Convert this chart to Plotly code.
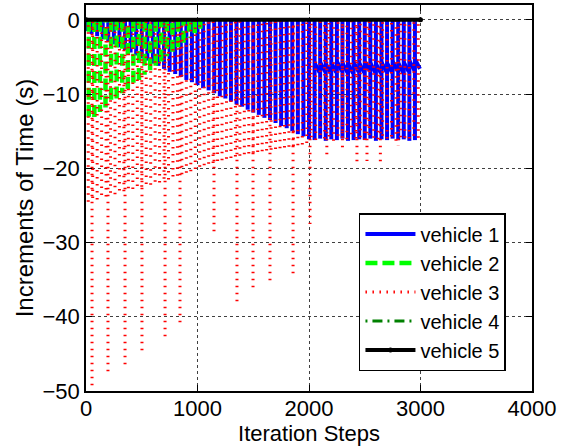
import plotly.graph_objects as go

# ---------------- data ----------------
x_ticks = [0, 1000, 2000, 3000, 4000]
y_ticks = [-50, -40, -30, -20, -10, 0]

# vehicle 1: step positions and the depth each drop reaches
v1_steps = [0, 50, 100, 150, 200, 250, 300, 350, 400, 450, 500, 550, 600, 650, 700,
            750, 800, 850, 900, 950, 1000, 1050, 1100, 1150, 1200, 1250, 1300, 1350,
            1400, 1450, 1500, 1550, 1600, 1650, 1700, 1750, 1800, 1850, 1900, 1950,
            2000, 2050, 2100, 2150, 2200, 2250, 2300, 2350, 2400, 2450, 2500, 2550,
            2600, 2650, 2700, 2750, 2800, 2850, 2900, 2950]
v1_min = [-1.5, -1.9, -2.2, -2.6, -3.0, -3.3, -3.7, -4.1, -4.4, -4.8, -5.2, -5.5, -5.9,
          -6.2, -6.6, -7.0, -7.3, -7.7, -8.1, -8.4, -8.8, -9.2, -9.5, -9.9, -10.3, -10.6,
          -11.0, -11.4, -11.7, -12.1, -12.5, -12.8, -13.2, -13.5, -13.9, -14.3, -14.6,
          -15.0, -15.4, -15.7, -16.1, -16.2, -16.0, -16.3, -16.1, -16.2, -16.0, -16.3,
          -16.2, -16.1, -16.2, -16.0, -16.3, -16.1, -16.2, -16.0, -16.2, -16.1, -16.3,
          -16.2]
# vehicle 1 secondary band after step 2000
v1_band_steps = [2050, 2100, 2150, 2200, 2250, 2300, 2350, 2400, 2450, 2500, 2550,
                 2600, 2650, 2700, 2750, 2800, 2850, 2900, 2950]
v1_band_top = [-5.8, -5.7, -5.9, -5.8, -5.6, -5.8, -5.9, -5.7, -5.8, -5.6, -5.8, -5.9,
               -5.7, -5.8, -5.6, -5.8, -5.7, -5.5, -5.3]
v1_band_bottom = [-7.1, -7.0, -7.2, -7.1, -6.9, -7.1, -7.2, -7.0, -7.1, -6.9, -7.1,
                  -7.2, -7.0, -7.1, -6.9, -7.1, -7.0, -6.8, -6.6]

# vehicle 2
v2_steps = [25, 75, 125, 175, 225, 275, 325, 375, 425, 475, 525, 575, 625, 675, 725,
            775, 825, 875, 925, 975, 1025]
v2_min = [-13.7, -13.1, -12.4, -11.8, -11.2, -10.6, -9.9, -9.3, -8.7, -8.1, -7.4, -6.8,
          -6.2, -5.6, -4.9, -4.3, -3.7, -3.1, -2.4, -1.8, -1.2]

# vehicle 3: dense drops
v3_steps = [20, 60, 100, 140, 180, 220, 260, 300, 340, 380, 420, 460, 500, 540, 580,
            620, 660, 700, 740, 780, 820, 860, 900, 940, 980, 1020, 1060, 1100, 1140,
            1180, 1220, 1260, 1300, 1340, 1380, 1420, 1460, 1500, 1540, 1580, 1620,
            1660, 1700, 1740, 1780, 1820, 1860, 1900, 1940, 1980, 2020, 2060, 2100,
            2140, 2180, 2220, 2260, 2300, 2340, 2380, 2420, 2460, 2500, 2540, 2580,
            2620, 2660, 2700, 2740, 2780, 2820, 2860, 2900, 2940, 2980]
v3_min = [-24.5, -24.0, -24.2, -23.6, -23.8, -23.3, -23.5, -23.0, -23.1, -22.7, -22.8,
          -22.4, -22.5, -22.1, -22.2, -21.8, -21.9, -21.4, -21.5, -21.1, -21.0, -20.8,
          -20.6, -20.4, -20.1, -19.8, -19.6, -19.4, -19.3, -19.0, -18.9, -18.7, -18.6,
          -18.4, -18.3, -18.1, -18.0, -17.9, -17.8, -17.7, -17.6, -17.5, -17.4, -17.3,
          -17.2, -17.1, -17.0, -16.9, -16.8, -16.6, -15.8, -16.2, -15.5, -16.0, -15.7,
          -16.3, -15.6, -15.9, -16.1, -15.4, -16.0, -15.8, -16.2, -15.5, -15.9, -16.1,
          -15.6, -16.0, -15.7, -16.3, -15.8, -15.9, -16.0, -15.6, -15.9]
# vehicle 3: isolated deep drops
v3_deep_steps = [54, 197, 350, 502, 709, 843, 1148, 1354, 1498, 1650, 1857, 2009,
                 2160, 2300, 2430, 2520, 2640, 2800]
v3_deep_min = [-49.3, -47.6, -46.4, -44.9, -42.9, -41.0, -29.0, -38.0, -36.6, -35.4,
               -34.5, -27.5, -18.5, -17.6, -19.6, -19.0, -19.2, -17.0]

# vehicle 4
v4_steps = [10, 110, 210, 310, 410, 510, 610, 710]
v4_min = [-0.3, -0.3, -0.3, -0.3, -0.3, -0.3, -0.3, -0.3]

# vehicle 5
v5_steps = [0, 3000]
v5_val = [0, 0]

names = ["vehicle 1", "vehicle 2", "vehicle 3", "vehicle 4", "vehicle 5"]


def drops(steps, mins, upward=False, alternate=False):
    xs, ys = [], []
    for i, (s, m) in enumerate(zip(steps, mins)):
        up = (i % 2 == 1) if alternate else upward
        xs += [s, s, None]
        ys += ([m, 0, None] if up else [0, m, None])
    return xs, ys


fig = go.Figure()

# vehicle 1
x1, y1 = drops(v1_steps, v1_min)
for s, t, b in zip(v1_band_steps, v1_band_top, v1_band_bottom):
    x1 += [s, s + 45, None]
    y1 += [t, b, None]
fig.add_trace(go.Scatter(x=x1, y=y1, mode="lines", name=names[0],
                         line=dict(color="#0000ff", width=4)))

# vehicle 2
x2, y2 = drops(v2_steps, v2_min, alternate=True)
fig.add_trace(go.Scatter(x=x2, y=y2, mode="lines", name=names[1],
                         line=dict(color="#00ff00", width=4.5, dash="12px,5px")))

# vehicle 3
x3, y3 = drops(v3_steps, v3_min, upward=True)
x3d, y3d = drops(v3_deep_steps, v3_deep_min, upward=False)
fig.add_trace(go.Scatter(x=x3 + x3d, y=y3 + y3d, mode="lines", name=names[2],
                         line=dict(color="#ff0000", width=3, dash="1.5px,5.5px")))

# vehicle 4
x4, y4 = drops(v4_steps, v4_min)
fig.add_trace(go.Scatter(x=x4, y=y4, mode="lines", name=names[3],
                         line=dict(color="#008000", width=3, dash="2px,5px,10px,5px")))

# vehicle 5
fig.add_trace(go.Scatter(x=v5_steps, y=v5_val, mode="lines+markers", name=names[4],
                         line=dict(color="#000000", width=4),
                         marker=dict(color="#000000", size=5)))

font_family = "Liberation Sans, Arial, Helvetica, sans-serif"
axis_common = dict(
    showline=True, linecolor="black", linewidth=1.5, mirror="ticks",
    ticks="inside", ticklen=6, tickwidth=1, tickcolor="black",
    showgrid=True, gridcolor="#404040", gridwidth=1, griddash="dot",
    zeroline=False, automargin=False,
    tickfont=dict(size=22, color="black", family=font_family),
)

fig.update_xaxes(range=[0, 4000], tickvals=x_ticks, ticklabelstandoff=-3,
                 title=dict(text="Iteration Steps", standoff=3,
                            font=dict(size=22, color="black", family=font_family)),
                 **axis_common)
fig.update_yaxes(range=[-50, 2], tickvals=y_ticks,
                 title=dict(text="Increments of Time (s)", standoff=2,
                            font=dict(size=24, color="black", family=font_family)),
                 **axis_common)

fig.update_layout(
    width=567, height=446,
    margin=dict(l=86, r=35, t=5, b=55),
    paper_bgcolor="white", plot_bgcolor="white",
    font=dict(family=font_family, color="black"),
    legend=dict(x=0.612, y=0.461, xanchor="left", yanchor="top",
                bgcolor="white", bordercolor="black", borderwidth=1.5,
                font=dict(size=20, color="black", family=font_family),
                itemwidth=50, tracegroupgap=0),
    showlegend=True,
)

fig.write_html("out.html", config={"displayModeBar": False},
               post_script="document.body.style.margin='0';")
